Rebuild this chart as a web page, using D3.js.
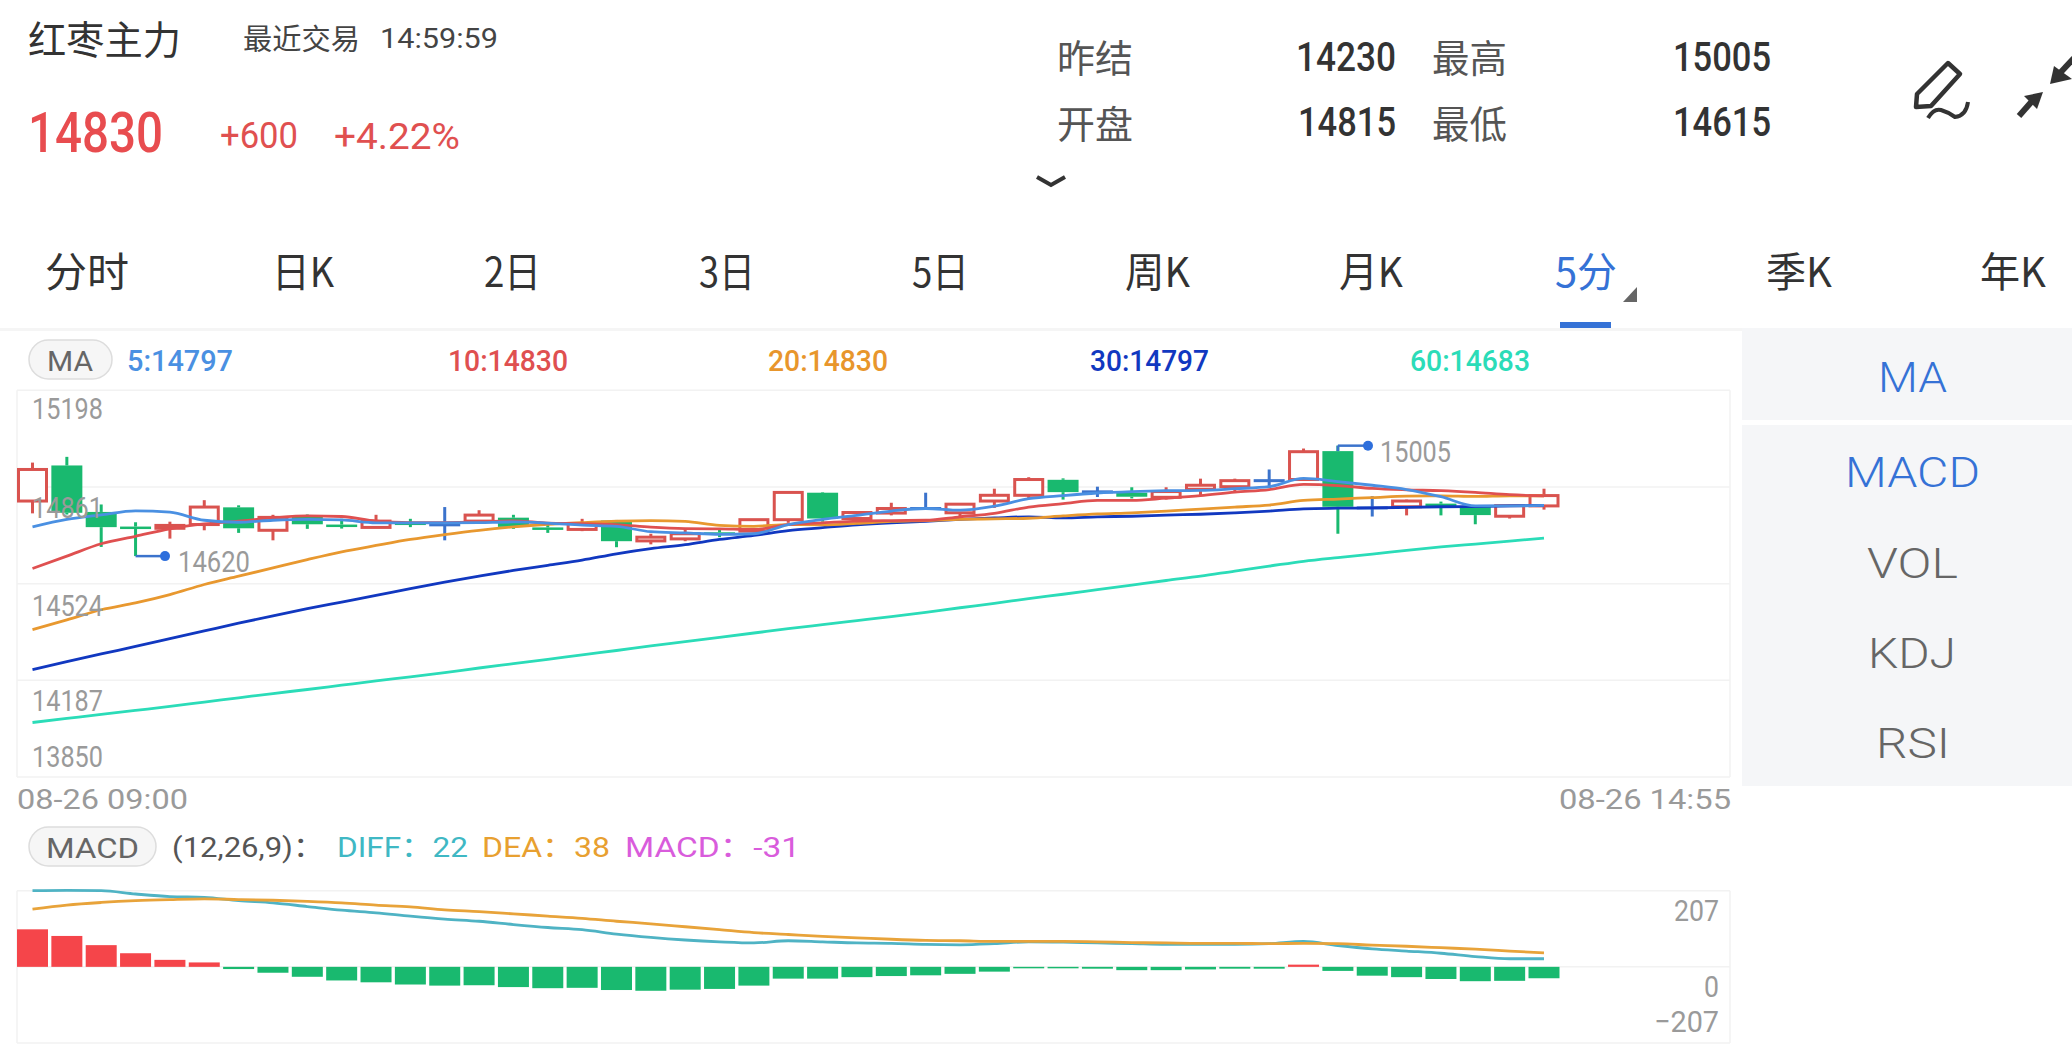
<!DOCTYPE html>
<html><head><meta charset="utf-8">
<script src="https://cdn.jsdelivr.net/npm/d3@7/dist/d3.min.js"></script>
<style>html,body{margin:0;padding:0;background:#fff;overflow:hidden}svg{display:block}</style>
</head><body><svg id="c" width="2072" height="1059"></svg>
<script>
const opens=[14812,14936,14774,14723,14717,14730,14790,14710,14759,14730,14720,14737,14729,14742,14754,14720,14713,14744,14673,14680,14703,14707,14747,14841,14751,14770,14786,14771,14812,14832,14886,14844,14841,14825,14853,14862,14883,14887,14986,14788,14792,14803,14794,14759,14795];
const closes=[14922,14771,14721,14721,14727,14791,14717,14755,14731,14728,14742,14735,14729,14763,14722,14717,14734,14672,14686,14698,14699,14747,14842,14751,14772,14786,14786,14801,14832,14887,14843,14844,14827,14845,14867,14883,14883,14984,14792,14788,14812,14792,14763,14796,14831];
const highs=[14946,14966,14800,14738,14740,14815,14797,14764,14765,14750,14764,14750,14791,14780,14764,14736,14750,14746,14698,14715,14715,14748,14844,14843,14773,14806,14841,14802,14855,14895,14891,14862,14860,14860,14890,14890,14922,14995,15005,14829,14817,14810,14796,14799,14855];
const lows=[14769,14765,14652,14620,14681,14710,14701,14675,14715,14716,14720,14721,14675,14736,14715,14701,14707,14651,14661,14672,14686,14703,14736,14740,14740,14762,14782,14757,14788,14821,14817,14826,14821,14817,14831,14843,14862,14887,14698,14758,14762,14762,14731,14751,14782];
const ma5=[14722,14748,14764,14778,14773,14745,14738,14745,14748,14746,14736,14736,14736,14737,14739,14735,14728,14724,14705,14701,14696,14698,14730,14748,14762,14777,14786,14780,14794,14820,14831,14840,14845,14848,14849,14855,14862,14891,14880,14867,14852,14827,14795,14795,14797];
const ma10=[14577,14620,14663,14689,14715,14732,14742,14753,14760,14758,14742,14737,14737,14739,14743,14735,14733,14730,14721,14716,14715,14713,14730,14736,14742,14744,14745,14757,14769,14791,14803,14814,14814,14822,14831,14843,14852,14870,14866,14856,14851,14848,14842,14834,14830];
const ma20=[14364,14398,14433,14457,14486,14521,14550,14579,14608,14635,14657,14678,14695,14710,14722,14731,14737,14742,14744,14741,14727,14724,14730,14729,14734,14741,14744,14748,14750,14752,14760,14767,14771,14777,14784,14791,14798,14814,14819,14824,14829,14830,14828,14830,14830];
const ma30=[14224,14252,14279,14305,14332,14359,14386,14412,14437,14460,14483,14507,14529,14550,14570,14588,14606,14628,14646,14660,14678,14692,14709,14719,14729,14736,14741,14748,14753,14757,14753,14757,14759,14763,14766,14771,14777,14785,14787,14788,14790,14792,14793,14795,14797];
const ma60=[14040,14054,14068,14082,14096,14111,14126,14141,14155,14170,14185,14199,14214,14230,14245,14260,14276,14291,14307,14322,14337,14352,14367,14381,14395,14409,14424,14440,14455,14472,14487,14503,14519,14535,14550,14568,14585,14602,14615,14627,14640,14652,14662,14672,14683];
const macd=[102,84,59,37,19,12,-6,-16,-27,-37,-42,-48,-51,-50,-55,-58,-57,-63,-65,-62,-60,-51,-32,-32,-28,-25,-23,-19,-13,-4,-4,-5,-9,-9,-7,-5,-5,6,-11,-24,-28,-33,-39,-38,-31];
const diff=[207,208,207,198,191,189,180,174,164,154,147,138,130,124,115,107,101,89,80,73,68,65,71,68,65,64,61,60,63,68,67,65,63,61,61,61,63,69,58,49,43,37,28,22,22];
const dea=[157,168,175,180,183,185,183,181,178,174,168,163,155,150,144,138,132,124,117,109,101,93,88,83,79,75,72,71,69,69,69,68,66,65,64,64,63,64,63,59,56,52,48,43,38];
const priceTicks=[15198,14861,14524,14187,13850];
const macdTicks=[207,0,-207];
const dateLabels=["08-26 09:00","08-26 14:55"];
const tabs=["分时","日K","2日","3日","5日","周K","月K","5分","季K","年K"];
const indicators=["MA","MACD","VOL","KDJ","RSI"];

const CJK='"Noto Sans CJK SC","Noto Sans",sans-serif', NUM='Roboto,"Noto Sans CJK SC",sans-serif';
const RED='#d9534f',GREEN='#19b96f',BLUE='#3b73cc';
const svg=d3.select('#c');
function fit(str,x0,x1,base,size,fill,fam,weight){
  return svg.append('text').text(str).attr('x',x0).attr('y',base).attr('font-size',size).attr('fill',fill)
   .attr('font-family',fam||NUM).attr('font-weight',weight||300).attr('textLength',x1-x0).attr('lengthAdjust','spacingAndGlyphs');
}
// header
fit('红枣主力',28,181,54,39,'#333',CJK,400);
fit('最近交易',243,360,50,29,'#444',CJK,400);
fit('14:59:59',380,498,48,28,'#444',NUM,400);
fit('14830',28,163,152,56,'#e84c4f',NUM,500);
fit('+600',220,298,148,36,'#e05050',NUM,400);
fit('+4.22%',334,460,149,36,'#e05050',NUM,400);
fit('昨结',1057,1133,72,38,'#555',CJK,400);
fit('开盘',1057,1133,138,38,'#555',CJK,400);
fit('最高',1432,1507,72,38,'#555',CJK,400);
fit('最低',1432,1507,138,38,'#555',CJK,400);
fit('14230',1296,1396,71,40,'#333',NUM,500);
fit('14815',1298,1396,136,40,'#333',NUM,500);
fit('15005',1673,1771,71,40,'#333',NUM,500);
fit('14615',1673,1771,136,40,'#333',NUM,500);
svg.append('path').attr('d','M1037,177L1051,185L1065,177').attr('fill','none').attr('stroke','#333').attr('stroke-width',4);
svg.append('path').attr('d','M1948,63L1960,74L1931,106L1916,107L1917,94Z').attr('fill','none').attr('stroke','#333').attr('stroke-width',4.5).attr('stroke-linejoin','round');
svg.append('path').attr('d','M1928,118Q1934,108 1941,110T1955,117Q1966,116 1968,102').attr('fill','none').attr('stroke','#333').attr('stroke-width',4);
svg.append('path').attr('d','M2019,116L2033,100').attr('stroke','#333').attr('stroke-width',6);
svg.append('path').attr('d','M2043,92L2037,109L2024,96Z').attr('fill','#333');
svg.append('path').attr('d','M2074,58L2060,73').attr('stroke','#333').attr('stroke-width',6);
svg.append('path').attr('d','M2054,66L2050,84L2072,79Z').attr('fill','#333');
// tabs
const tabX=[[45,129],[272,334],[484,541],[699,755],[912,969],[1125,1190],[1339,1403],[1555,1617],[1766,1832],[1980,2046]];
tabs.forEach((t,i)=>fit(t,tabX[i][0],tabX[i][1],287,41,i===7?'#3572d6':'#333',CJK,400));
svg.append('path').attr('d','M1637,287V302H1623Z').attr('fill','#666');
svg.append('rect').attr('x',1560).attr('y',322).attr('width',51).attr('height',6).attr('fill','#3572d6');
svg.append('rect').attr('x',0).attr('y',328).attr('width',1742).attr('height',3).attr('fill','#f5f5f5');
// right panel
svg.append('rect').attr('x',1742).attr('y',328).attr('width',330).attr('height',92).attr('fill','#f5f6f8');
svg.append('rect').attr('x',1742).attr('y',425).attr('width',330).attr('height',361).attr('fill','#f5f6f8');
const indX=[[1878,1947],[1845,1980],[1867,1958],[1868,1956],[1876,1950]], indY=[392,487,578,668,758];
indicators.forEach((t,i)=>fit(t,indX[i][0],indX[i][1],indY[i],42,i<2?'#3572d6':'#666',NUM,300));
// scales
const x=d3.scalePoint().domain(d3.range(45)).range([32.5,1544]);
const bw=31;
const y=d3.scaleLinear().domain([13850,15198]).range([777,390.3]);
const ym=d3.scaleLinear().domain([-207,207]).range([1043,890.7]);
const L=17,R=1730;
// main grid through axis
const gridG=svg.append('g').attr('transform',`translate(${L},0)`)
  .call(d3.axisRight(y).offset(0).tickValues(priceTicks).tickSize(R-L).tickFormat(''));
gridG.select('.domain').remove();
gridG.selectAll('line').attr('stroke','#f2f2f2').attr('stroke-width',1.5);
[[390.3,777],[890.7,1043]].forEach(([a,b])=>[L,R].forEach(v=>
  svg.append('line').attr('x1',v).attr('x2',v).attr('y1',a).attr('y2',b).attr('stroke','#f2f2f2').attr('stroke-width',1.5)));
const mg=svg.append('g').attr('transform',`translate(${L},0)`)
  .call(d3.axisRight(ym).offset(0).tickValues(macdTicks).tickSize(R-L).tickFormat(''));
mg.select('.domain').remove();
mg.selectAll('line').attr('stroke','#f2f2f2').attr('stroke-width',1.5);
// candles
d3.range(45).forEach(i=>{
  const o=opens[i],c=closes[i],up=c>o,flat=c===o;
  const col=flat?BLUE:(up?RED:GREEN);
  const g=svg.append('g');
  const top=Math.max(o,c),bot=Math.min(o,c);
  g.append('line').attr('x1',x(i)).attr('x2',x(i)).attr('y1',y(highs[i])).attr('y2',y(top)).attr('stroke',col).attr('stroke-width',3);
  g.append('line').attr('x1',x(i)).attr('x2',x(i)).attr('y1',y(bot)).attr('y2',y(lows[i])).attr('stroke',col).attr('stroke-width',3);
  if(flat){g.append('line').attr('x1',x(i)-bw/2).attr('x2',x(i)+bw/2).attr('y1',y(o)).attr('y2',y(o)).attr('stroke',col).attr('stroke-width',3);}
  else if(up){g.append('rect').attr('x',x(i)-bw/2+1.5).attr('width',bw-3).attr('y',y(top)).attr('height',y(bot)-y(top)).attr('fill','#fff').attr('stroke',col).attr('stroke-width',3);}
  else{g.append('rect').attr('x',x(i)-bw/2).attr('width',bw).attr('y',y(top)).attr('height',Math.max(y(bot)-y(top),2.5)).attr('fill',col);}
});
// lines
const lineG=d3.line().x((d,i)=>x(i)).y(d=>y(d)).curve(d3.curveMonotoneX);
[[ma60,'#2bdcb8'],[ma30,'#1138c0'],[ma20,'#e8982f'],[ma10,'#df5050'],[ma5,'#4a90e2']].forEach(([a,col])=>{
  svg.append('path').attr('d',lineG(a)).attr('fill','none').attr('stroke',col).attr('stroke-width',2.8);
});
// callouts
const hiI=highs.indexOf(d3.max(highs)),loI=lows.indexOf(d3.min(lows));
[[hiI,highs[hiI],15005,462,1368,1380,1451],[loI,lows[loI],14620,572,165,178,250]].forEach(([i,v,lab,base,dx,t0,t1])=>{
  const sy=hiI===i?y(opens[i]):y(v);
  svg.append('path').attr('d',`M${x(i)},${sy}V${y(v)}`).attr('fill','none').attr('stroke',BLUE).attr('stroke-width',hiI===i?2.5:0);
  svg.append('path').attr('d',`M${x(i)},${y(v)}H${dx}`).attr('fill','none').attr('stroke',BLUE).attr('stroke-width',2.5);
  svg.append('circle').attr('cx',dx).attr('cy',y(v)).attr('r',5).attr('fill','#2e6fdc');
  fit(String(lab),t0,t1,base,30,'#9a9a9a',NUM,400);
});
// price labels
const tickDy=[29,31,32,31,-10];
priceTicks.forEach((t,i)=>fit(String(t),32,103,y(t)+tickDy[i],30,'#9a9a9a',NUM,400));
fit(dateLabels[0],17,188,809,27,'#9a9a9a',NUM,400);
fit(dateLabels[1],1559,1731,809,27,'#9a9a9a',NUM,400);
// MA legend
svg.append('rect').attr('x',29).attr('y',340).attr('width',83).attr('height',39).attr('rx',19.5).attr('fill','#f6f6f6').attr('stroke','#ddd').attr('stroke-width',1.5);
fit('MA',47,93,371,28,'#666',NUM,400);
const leg=[['5:14797',127,233,'#4a90e2'],['10:14830',448,568,'#df5050'],['20:14830',768,888,'#e8962c'],['30:14797',1090,1209,'#1138c0'],['60:14683',1410,1530,'#2bdcb8']];
leg.forEach(d=>fit(d[0],d[1],d[2],371,29,d[3],NUM,500));
// MACD legend
svg.append('rect').attr('x',29).attr('y',827).attr('width',127).attr('height',39).attr('rx',19.5).attr('fill','#f6f6f6').attr('stroke','#ddd').attr('stroke-width',1.5);
fit('MACD',46,139,858,28,'#666',NUM,400);
fit('(12,26,9)：',172,324,857,28,'#555',NUM,400);
fit('DIFF：22',337,468,857,28,'#3fb8c4',NUM,400);
fit('DEA：38',482,610,857,28,'#e8a030',NUM,400);
fit('MACD：-31',625,800,857,28,'#d95cdc',NUM,400);
// MACD bars
svg.append('g').selectAll('rect').data(macd).join('rect')
 .attr('x',(d,i)=>x(i)-bw/2).attr('width',bw)
 .attr('y',d=>d>=0?ym(d):ym(0)).attr('height',d=>Math.abs(ym(d)-ym(0)))
 .attr('fill',d=>d>=0?'#f5454a':GREEN);
const lm=d3.line().x((d,i)=>x(i)).y(d=>ym(d)).curve(d3.curveMonotoneX);
svg.append('path').attr('d',lm(diff)).attr('fill','none').attr('stroke','#4fb3c4').attr('stroke-width',2.8);
svg.append('path').attr('d',lm(dea)).attr('fill','none').attr('stroke','#e8a33a').attr('stroke-width',2.8);
// MACD labels
fit('207',1674,1719,921,30,'#9a9a9a',NUM,400);
fit('0',1704,1719,997,30,'#9a9a9a',NUM,400);
fit('−207',1654,1719,1032,30,'#9a9a9a',NUM,400);
</script></body></html>
